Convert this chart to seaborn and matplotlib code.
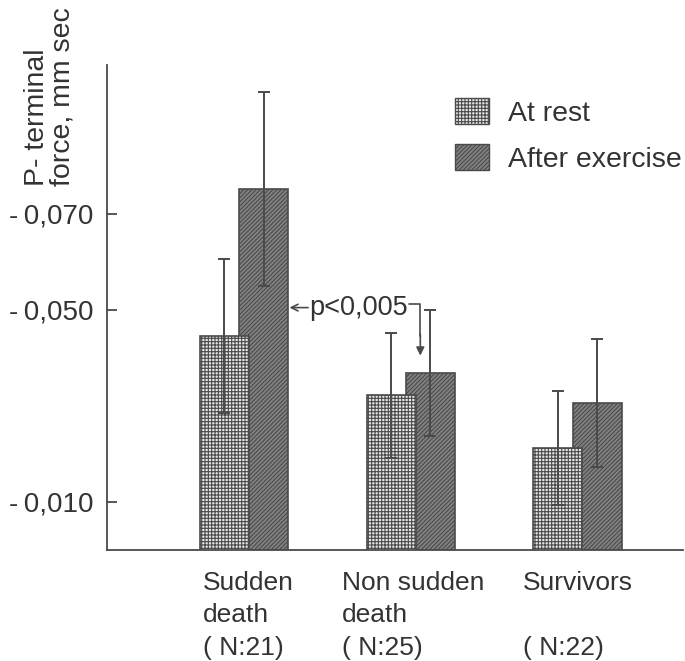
import numpy as np
import pandas as pd
import seaborn as sns
import matplotlib.pyplot as plt
from matplotlib.patches import Patch

# Groups, sample sizes and P-terminal force (mm sec, shown as magnitude) with SD
groups = ["Sudden death", "Non sudden death", "Survivors"]
group_labels = ["Sudden\ndeath\n( N:21)", "Non sudden\ndeath\n( N:25)", "Survivors\n\n( N:22)"]
conditions = ["At rest", "After exercise"]
rest_mean = [0.0446, 0.0322, 0.0213]
rest_sd = [0.0160, 0.0130, 0.0119]
exercise_mean = [0.0753, 0.0369, 0.0306]
exercise_sd = [0.0202, 0.0131, 0.0133]
tick_values = [0.070, 0.050, 0.010]
tick_labels = ["-\u20090,070", "-\u20090,050", "-\u20090,010"]
p_text = "p<0,005"

sns.set_theme(style="white")
plt.rcParams["font.family"] = ["Liberation Sans", "DejaVu Sans"]
plt.rcParams["hatch.linewidth"] = 0.8

ink = "#4a4a4a"
text_color = "#333333"
rest_color = "#e6e6e6"
exercise_color = "#828282"
rest_hatch = "+++++"
exercise_hatch = "////////"

df = pd.DataFrame({
    "group": groups * 2,
    "condition": [conditions[0]] * 3 + [conditions[1]] * 3,
    "value": rest_mean + exercise_mean,
})

fig = plt.figure(figsize=(6.85, 6.61), dpi=100)
ax = fig.add_axes([107 / 685, 1 - 550 / 661, 576 / 685, 485 / 661])

sns.barplot(data=df, x="group", y="value", hue="condition", order=groups,
            hue_order=conditions, palette=[rest_color, exercise_color],
            errorbar=None, width=0.47, gap=-0.25, edgecolor=ink,
            linewidth=1.2, legend=False, ax=ax)

rest_bars, exercise_bars = ax.containers[0], ax.containers[1]
for bar in rest_bars:
    bar.set_hatch(rest_hatch)
    bar.set_zorder(3)
for bar in exercise_bars:
    bar.set_hatch(exercise_hatch)
    bar.set_zorder(2)

# SD error bars at the bar centres
for bars, means, sds in [(rest_bars, rest_mean, rest_sd), (exercise_bars, exercise_mean, exercise_sd)]:
    xs = [b.get_x() + b.get_width() / 2 for b in bars]
    ax.errorbar(xs, means, yerr=sds, fmt="none", ecolor=ink, elinewidth=1.4,
                capsize=4.5, capthick=1.4, zorder=5)

ax.set_xlim(-0.8216, 2.633)
ax.set_ylim(0, 0.10104)
ax.set_yticks(tick_values)
ax.set_yticklabels(tick_labels)
ax.set_xticks([])
ax.set_xlabel("")
ax.set_ylabel("")
ax.tick_params(axis="y", direction="in", length=7, width=1.3, color=ink,
               labelsize=20, labelcolor=text_color, pad=10, left=True)
sns.despine(ax=ax)
for side in ("left", "bottom"):
    ax.spines[side].set_color(ink)
    ax.spines[side].set_linewidth(1.3)

# Group labels under the baseline
label_offsets = [-0.246, -0.412, -0.327]
for i, (txt, off) in enumerate(zip(group_labels, label_offsets)):
    ax.text(i + off, -0.043, txt, transform=ax.get_xaxis_transform(),
            ha="left", va="top", fontsize=19, color=text_color, linespacing=1.45)

# Y-axis title
fig.text(50 / 685, 1 - 186 / 661, "P- terminal\nforce, mm sec", rotation=90,
         ha="center", va="bottom", multialignment="left", fontsize=20.5,
         color=text_color, linespacing=1.0)

# Significance annotation
sd_ex = exercise_bars[0]
ns_ex = exercise_bars[1]
y_p = 0.0505
x_text = sd_ex.get_x() + sd_ex.get_width() + 0.125
ax.annotate("", xy=(sd_ex.get_x() + sd_ex.get_width(), y_p), xytext=(x_text - 0.005, y_p),
            arrowprops=dict(arrowstyle="->", color=ink, lw=1.2, shrinkA=0, shrinkB=1))
ax.text(x_text, y_p, p_text, ha="left", va="center", fontsize=19.5, color=text_color)
x_arrow = ns_ex.get_x() + ns_ex.get_width() / 2 - 0.06
ax.plot([x_arrow - 0.065, x_arrow, x_arrow], [0.0512, 0.0512, 0.0445], color=ink, lw=1.2)
ax.annotate("", xy=(x_arrow, 0.0405), xytext=(x_arrow, 0.0450),
            arrowprops=dict(arrowstyle="-|>", color=ink, lw=1.2, mutation_scale=12,
                            shrinkA=0, shrinkB=0))

# Legend
handles = [Patch(facecolor=rest_color, edgecolor=ink, hatch=rest_hatch, label=conditions[0]),
           Patch(facecolor=exercise_color, edgecolor=ink, hatch=exercise_hatch, label=conditions[1])]
fig.legend(handles=handles, loc="upper left", bbox_to_anchor=(455 / 685, 1 - 98 / 661),
           frameon=False, fontsize=20.5, handlelength=1.2, handleheight=1.05,
           handletextpad=0.65, labelspacing=0.6, borderpad=0, borderaxespad=0,
           labelcolor=text_color)

fig.savefig("out.png", dpi=100)
